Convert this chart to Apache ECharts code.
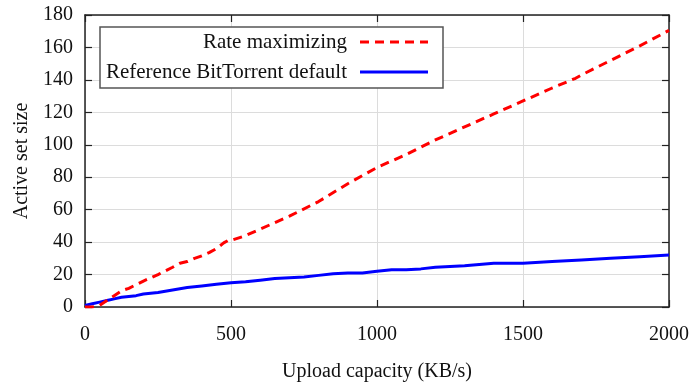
<!DOCTYPE html>
<html><head><meta charset="utf-8">
<script src="https://cdn.jsdelivr.net/npm/echarts@6/dist/echarts.min.js"></script>
<style>html,body{margin:0;padding:0;background:#fff}#c{width:700px;height:387px}</style>
</head><body><div id="c"></div>
<script>
const rateX = [0,25,50,75,100,125,150,200,250,300,325,350,375,400,425,450,475,490,500,550,600,700,800,900,1000,1100,1200,1300,1400,1500,1600,1680,1700,1800,1900,2000];
const rateY = [0,0,1,4,7,10,11.5,16,20,24.5,27,28,30,31.5,33.5,36,39.5,41,41,44,48,56,65,76,86,94,103,111,119,127,135,141,143,152,161,170.5];
const refX = [0,25,50,75,100,125,150,175,200,250,300,350,400,450,500,550,600,650,700,750,800,850,900,950,1000,1050,1100,1150,1200,1300,1400,1500,1600,1700,1800,1900,2000];
const refY = [1,2,3,4,5,6,6.5,7,8,9,10.5,12,13,14,15,15.5,16.5,17.5,18,18.5,19.5,20.5,21,21,22,23,23,23.5,24.5,25.5,27,27,28,29,30,31,32];
const seriesNames = ['Rate maximizing','Reference BitTorrent default'];
const xTicks = [0,500,1000,1500,2000];
const yTicks = [0,20,40,60,80,100,120,140,160,180];

const FONT = '"Liberation Serif", "DejaVu Serif", serif';
const FS = 20;
const LFS = 21;
const chart = echarts.init(document.getElementById('c'));
const zip = (a,b)=>a.map((v,i)=>[v,b[i]]);
const axLine = {show:true, onZero:false, lineStyle:{color:'#222', width:1.5}};
const tick = {show:true, inside:true, length:7, lineStyle:{color:'#222', width:1.2}};
const L = 85, R = 669, T = 15, B = 307;
chart.setOption({
  animation:false,
  grid:{left:L, right:700-R, top:T, bottom:387-B},
  xAxis:[{type:'value', min:xTicks[0], max:xTicks[xTicks.length-1], interval:500,
    axisLine:axLine, axisTick:tick,
    axisLabel:{color:'#111', fontFamily:FONT, fontSize:FS, margin:18, formatter:v=>String(v)},
    splitLine:{show:true, lineStyle:{color:'#dcdcdc', width:1}},
    name:'Upload capacity (KB/s)', nameLocation:'middle', nameGap:55,
    nameTextStyle:{color:'#111', fontFamily:FONT, fontSize:FS}},
   {type:'value', position:'top', min:0, max:2000, interval:500,
    axisLine:axLine, axisTick:tick, axisLabel:{show:false}, splitLine:{show:false}}],
  yAxis:[{type:'value', min:yTicks[0], max:yTicks[yTicks.length-1], interval:20,
    axisLine:axLine, axisTick:tick,
    axisLabel:{color:'#111', fontFamily:FONT, fontSize:FS, margin:12, formatter:v=>String(v)},
    splitLine:{show:true, lineStyle:{color:'#dcdcdc', width:1}},
    name:'Active set size', nameLocation:'middle', nameGap:52,
    nameTextStyle:{color:'#111', fontFamily:FONT, fontSize:FS}},
   {type:'value', position:'right', min:0, max:180, interval:20,
    axisLine:axLine, axisTick:tick, axisLabel:{show:false}, splitLine:{show:false}}],
  series:[
    {name:seriesNames[0], type:'line', data:zip(rateX,rateY), showSymbol:false, z:3,
     lineStyle:{color:'#ff0000', width:3, type:[9,6]}},
    {name:seriesNames[1], type:'line', data:zip(refX,refY), showSymbol:false, z:2,
     lineStyle:{color:'#0000ff', width:3}}
  ],
  graphic:[
    {type:'rect', shape:{x:100, y:27, width:343, height:61}, style:{fill:'#fff', stroke:'#555', lineWidth:1.5}, z:10},
    {type:'text', x:347, y:42, style:{text:seriesNames[0], font:LFS+'px '+FONT, fill:'#111', textAlign:'right', textVerticalAlign:'middle'}, z:11},
    {type:'text', x:347, y:72, style:{text:seriesNames[1], font:LFS+'px '+FONT, fill:'#111', textAlign:'right', textVerticalAlign:'middle'}, z:11},
    {type:'line', shape:{x1:360, y1:42, x2:428, y2:42}, style:{stroke:'#ff0000', lineWidth:3, lineDash:[9,6]}, z:11},
    {type:'line', shape:{x1:360, y1:72, x2:428, y2:72}, style:{stroke:'#0000ff', lineWidth:3}, z:11}
  ]
});
</script></body></html>
